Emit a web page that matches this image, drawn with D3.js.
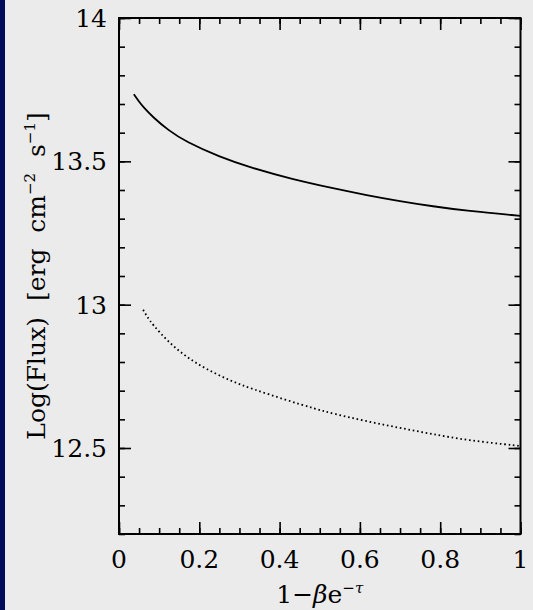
<!DOCTYPE html>
<html>
<head>
    <meta charset="utf-8">
    <title>Flux curves</title>
    <script src="https://cdnjs.cloudflare.com/ajax/libs/d3/7.8.5/d3.min.js"></script>
    <style>
        body { margin: 0; background: #ebebeb; }
        svg { display: block; }
        text { font-family: "DejaVu Serif", serif; fill: #000; white-space: pre; }
    </style>
</head>
<body>
<script type="text/javascript">
    // values
    var xSolid = [0.037, 0.05, 0.062, 0.083, 0.124, 0.166, 0.249, 0.332, 0.431, 0.533, 0.617, 0.70, 0.782, 0.866, 1.0];
    var ySolid = [13.734, 13.708, 13.687, 13.656, 13.607, 13.569, 13.516, 13.476, 13.438, 13.406, 13.382, 13.361, 13.343, 13.327, 13.310];

    var xDotted = [0.06, 0.071, 0.083, 0.122, 0.166, 0.216, 0.278, 0.332, 0.415, 0.49, 0.533, 0.617, 0.70, 0.782, 0.866, 1.0];
    var yDotted = [12.982, 12.956, 12.932, 12.871, 12.819, 12.776, 12.734, 12.706, 12.668, 12.636, 12.620, 12.593, 12.570, 12.548, 12.527, 12.507];

    var xMajor = [0, 0.2, 0.4, 0.6, 0.8, 1];
    var xLabels = ["0", "0.2", "0.4", "0.6", "0.8", "1"];
    var yMajor = [12.5, 13, 13.5, 14];
    var yLabels = ["12.5", "13", "13.5", "14"];

    var width = 533,
        height = 610,
        plotLeft = 119,
        plotRight = 520.5,
        plotTop = 18,
        plotBottom = 534;

    var x = d3.scaleLinear().domain([0, 1]).range([plotLeft, plotRight]),
        y = d3.scaleLinear().domain([12.2, 14]).range([plotBottom, plotTop]);

    var xMinor = d3.range(0, 1.0001, 0.05),
        yMinor = d3.range(12.2, 14.0001, 0.1);

    var svg = d3.select("body").append("svg")
        .attr("width", width)
        .attr("height", height);

    svg.append("rect")
        .attr("width", width).attr("height", height)
        .attr("fill", "#ebebeb");

    svg.append("rect")
        .attr("width", 5).attr("height", height)
        .attr("fill", "#020c5c");

    renderAxes();
    renderLines();

    function tickAxis(axisFn, scale, values, size, pos){
        var a = axisFn(scale).tickValues(values).tickSize(size).tickFormat("");
        var g = svg.append("g").attr("transform", pos).call(a);
        g.select(".domain").remove();
        g.selectAll(".tick line").attr("stroke", "#000").attr("stroke-width", 1.6);
        return g;
    }

    function renderAxes(){
        // ticks on all four sides, pointing inward
        tickAxis(d3.axisBottom, x, xMinor, -6, "translate(0," + plotBottom + ")");
        tickAxis(d3.axisBottom, x, xMajor, -12, "translate(0," + plotBottom + ")");
        tickAxis(d3.axisTop, x, xMinor, -6, "translate(0," + plotTop + ")");
        tickAxis(d3.axisTop, x, xMajor, -12, "translate(0," + plotTop + ")");
        tickAxis(d3.axisLeft, y, yMinor, -6, "translate(" + plotLeft + ",0)");
        tickAxis(d3.axisLeft, y, yMajor, -12, "translate(" + plotLeft + ",0)");
        tickAxis(d3.axisRight, y, yMinor, -6, "translate(" + plotRight + ",0)");
        tickAxis(d3.axisRight, y, yMajor, -12, "translate(" + plotRight + ",0)");

        svg.append("rect")
            .attr("x", plotLeft).attr("y", plotTop)
            .attr("width", plotRight - plotLeft).attr("height", plotBottom - plotTop)
            .attr("fill", "none")
            .attr("stroke", "#000")
            .attr("stroke-width", 2);

        svg.append("g").selectAll("text")
            .data(xMajor)
          .enter().append("text")
            .attr("x", function(d){ return x(d); })
            .attr("y", 568)
            .attr("text-anchor", "middle")
            .attr("font-size", 25)
            .text(function(d, i){ return xLabels[i]; });

        svg.append("g").selectAll("text")
            .data(yMajor)
          .enter().append("text")
            .attr("x", plotLeft - 12)
            .attr("y", function(d){ return y(d) + 9; })
            .attr("text-anchor", "end")
            .attr("font-size", 25)
            .text(function(d, i){ return yLabels[i]; });

        var xt = svg.append("text")
            .attr("x", (plotLeft + plotRight) / 2)
            .attr("y", 603)
            .attr("text-anchor", "middle")
            .attr("font-size", 25);
        xt.append("tspan").text("1\u2212");
        xt.append("tspan").attr("font-style", "italic").text("\u03b2");
        xt.append("tspan").text("e");
        xt.append("tspan").attr("font-size", 15).attr("dy", -10).text("\u2212");
        xt.append("tspan").attr("font-size", 15).attr("font-style", "italic").text("\u03c4");

        var yt = svg.append("text")
            .attr("transform", "translate(45," + ((plotTop + plotBottom) / 2) + ") rotate(-90)")
            .attr("text-anchor", "middle")
            .attr("font-size", 25);
        yt.append("tspan").text("Log(Flux)  [erg  cm");
        yt.append("tspan").attr("font-size", 15).attr("dy", -10).text("\u22122");
        yt.append("tspan").attr("dy", 10).text("  s");
        yt.append("tspan").attr("font-size", 15).attr("dy", -10).text("\u22121");
        yt.append("tspan").attr("dy", 10).text("]");
    }

    function renderLines(){
        var line = d3.line()
            .x(function(d){ return x(d[0]); })
            .y(function(d){ return y(d[1]); })
            .curve(d3.curveBasis);

        svg.append("path")
            .datum(d3.zip(xSolid, ySolid))
            .attr("d", line)
            .attr("fill", "none")
            .attr("stroke", "#000")
            .attr("stroke-width", 1.8);

        svg.append("path")
            .datum(d3.zip(xDotted, yDotted))
            .attr("d", line)
            .attr("fill", "none")
            .attr("stroke", "#000")
            .attr("stroke-width", 1.8)
            .attr("stroke-dasharray", "1.6 2.8");
    }
</script>
</body>
</html>
